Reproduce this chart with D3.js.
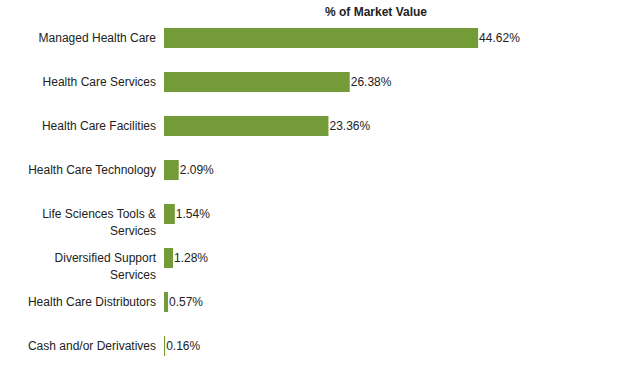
<!DOCTYPE html>
<html>
<head>
<meta charset="utf-8">
<script src="https://cdn.jsdelivr.net/npm/d3@7"></script>
<style>
  body { margin: 0; background: #fff; }
  svg { display: block; font-family: "Liberation Sans", Arial, Helvetica, sans-serif; }
  .label, .value { font-size: 12px; fill: #222; }
  .title { font-size: 12px; font-weight: bold; fill: #222; }
</style>
</head>
<body>
<div id="chart"></div>
<script>
const categories = [
    'Managed Health Care',
    'Health Care Services',
    'Health Care Facilities',
    'Health Care Technology',
    'Life Sciences Tools & Services',
    'Diversified Support Services',
    'Health Care Distributors',
    'Cash and/or Derivatives'
];
const values = [44.62, 26.38, 23.36, 2.09, 1.54, 1.28, 0.57, 0.16];
const title = '% of Market Value';

const width = 618;
const height = 377;
const barColor = '#739c39';

const svg = d3.select('#chart').append('svg')
    .attr('width', width)
    .attr('height', height);

const x = d3.scaleLinear().domain([0, 50]).range([164, 516]);

const y = d3.scaleBand()
    .domain(categories)
    .range([16, 368])
    .paddingInner(0.5455)
    .paddingOuter(0.2727);

const data = categories.map((c, i) => ({ name: c, value: values[i] }));

svg.append('text')
    .attr('class', 'title')
    .attr('x', 376)
    .attr('y', 16)
    .attr('text-anchor', 'middle')
    .text(title);

svg.append('g')
    .selectAll('rect')
    .data(data)
    .join('rect')
    .attr('x', x(0))
    .attr('y', d => y(d.name))
    .attr('width', d => Math.max(1, x(d.value) - x(0)))
    .attr('height', y.bandwidth())
    .attr('fill', barColor);

svg.append('g')
    .selectAll('text')
    .data(data)
    .join('text')
    .attr('class', 'value')
    .attr('x', d => Math.max(x(d.value), x(0) + 1) + 1)
    .attr('y', d => y(d.name) + y.bandwidth() / 2)
    .attr('dy', '0.35em')
    .text(d => d.value.toFixed(2) + '%');

// category labels, wrapped to fit left of the bars
const maxLabelWidth = 132;
const labels = svg.append('g')
    .selectAll('text')
    .data(data)
    .join('text')
    .attr('class', 'label')
    .attr('text-anchor', 'end')
    .attr('x', 156)
    .attr('y', d => y(d.name) + y.bandwidth() / 2)
    .attr('dy', '0.35em');

labels.each(function (d) {
    const text = d3.select(this);
    const words = d.name.split(' ');
    let line = [];
    let lineNo = 0;
    let tspan = text.append('tspan').attr('x', 156).attr('dy', '0.35em');
    words.forEach(word => {
        line.push(word);
        tspan.text(line.join(' '));
        if (tspan.node().getComputedTextLength() > maxLabelWidth && line.length > 1) {
            line.pop();
            tspan.text(line.join(' '));
            line = [word];
            lineNo++;
            tspan = text.append('tspan').attr('x', 156).attr('dy', '1.4em').text(word);
        }
    });
});
labels.attr('dy', null);
</script>
</body>
</html>
